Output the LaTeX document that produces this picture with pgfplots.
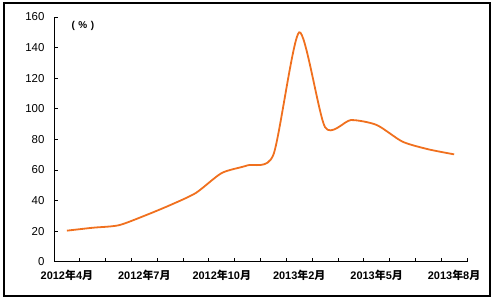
\documentclass[border=0pt]{standalone}
\usepackage{fontspec}
\setmainfont{Liberation Sans}
\newfontfamily\cjk{Noto Sans CJK SC}
\usepackage{pgfplots}
\pgfplotsset{compat=1.18}
\definecolor{lineorange}{RGB}{240,112,30}
\newcommand{\ym}[2]{\bfseries #1{\cjk\bfseries 年}#2{\cjk\bfseries 月}}
\begin{document}
\begin{tikzpicture}
\begin{axis}[
  scale only axis,
  width=413bp, height=244.7bp,
  xmin=-0.5, xmax=15.5,
  ymin=0, ymax=160,
  axis x line=bottom, axis y line=left,
  axis line style={-, line width=0.8bp, black},
  tick align=inside,
  major tick length=4bp,
  tick style={black, line width=0.8bp},
  /pgf/number format/assume math mode=true,
  xtick={-0.5,0.5,...,15.5},
  xticklabels={},
  extra x ticks={0,3,6,9,12,15},
  extra x tick labels={\ym{2012}{4},\ym{2012}{7},\ym{2012}{10},\ym{2013}{2},\ym{2013}{5},\ym{2013}{8}},
  extra x tick style={major tick length=0pt, tick label style={yshift=-5bp}},
  ytick={0,20,...,160},
  yticklabel style={font=\fontsize{11.5}{13}\selectfont, xshift=-6bp},
  xticklabel style={font=\fontsize{11}{13}\selectfont},
  clip=false,
]
\addplot[lineorange, line width=1.8bp, smooth, tension=0.42] coordinates {
(0,20.3) (1,22.2) (2,23.8) (3,30.0) (4,37.0) (5,45.0) (6,58.0) (7,63.0)
(8,70.0) (9,150.0) (10,88.0) (11,92.6) (12,89.4) (13,78.5) (14,73.5) (15,70.2)
};
\node[font=\fontsize{10}{11}\selectfont\bfseries] at (axis cs:0.62,154) {(\hspace{3.5bp}\%\hspace{3.5bp})};
\end{axis}
\draw[line width=1.3bp] ([xshift=-50bp,yshift=-34.3bp]current axis.south west) rectangle ([xshift=23bp,yshift=14bp]current axis.north east);
\pgfresetboundingbox
\useasboundingbox ([xshift=-54bp,yshift=-38.3bp]current axis.south west) rectangle ([xshift=27bp,yshift=17bp]current axis.north east);
\end{tikzpicture}
\end{document}
